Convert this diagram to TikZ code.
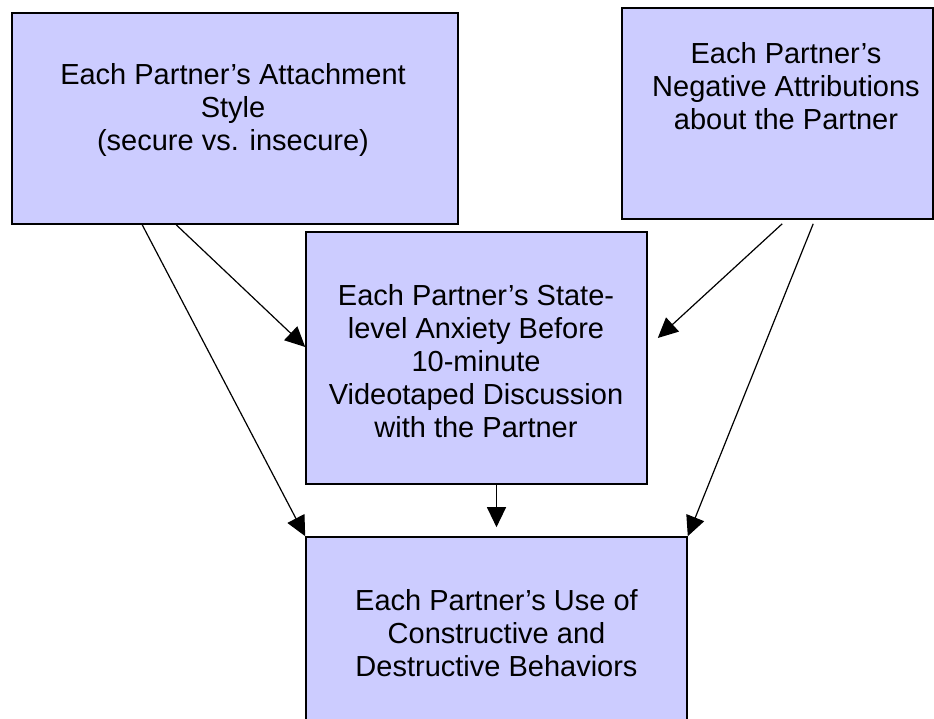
\documentclass[tikz,border=0pt]{standalone}
\usepackage{fontspec}
\setmainfont{Liberation Sans}
\usetikzlibrary{arrows.meta}
\definecolor{boxfill}{RGB}{204,204,255}
\tikzset{
    varbox/.style={draw=black,line width=1.6pt,fill=boxfill,inner sep=0pt},
    vartext/.style={align=center,inner sep=0pt,font=\fontsize{29}{33}\selectfont},
    link/.style={line width=1.2pt,-{Triangle[length=20pt,width=19pt]}}
}

\begin{document}
\begin{tikzpicture}[x=1pt,y=1pt]
            \useasboundingbox (0,0) rectangle (934,719);
            \node[varbox,minimum width=446pt,minimum height=211pt] (attach) at (235,600.5) {};
            \node[varbox,minimum width=311pt,minimum height=211pt] (attrib) at (777.5,605.5) {};
            \node[varbox,minimum width=341pt,minimum height=252pt] (anxiety) at (476.5,361) {};
            \node[varbox,minimum width=381pt,minimum height=222pt] (behav) at (496.5,71) {};

            \node[vartext] (attachtxt) at (233,609) {Each Partner’s Attachment\\Style\\(secure vs. insecure)};
            \node[vartext] (attribtxt) at (786,633) {Each Partner’s\\Negative Attributions\\about the Partner};
            \node[vartext] (anxietytxt) at (476,358) {Each Partner’s State-\\level Anxiety Before\\10-minute\\Videotaped Discussion\\with the Partner};
            \node[vartext] (behavtxt) at (496.5,86) {Each Partner’s Use of\\Constructive and\\Destructive Behaviors};

            \draw[link] ([xshift=131pt]attach.south west)--(behav.north west);
            \draw[link] ([xshift=165pt]attach.south west)--([yshift=11pt]anxiety.west);
            \draw[link] ([shift={(161pt,-4pt)}]attrib.south west)--([shift={(10pt,20pt)}]anxiety.east);
            \draw[link] ([shift={(192pt,-4pt)}]attrib.south west)--(behav.north east);
            \draw[link] (anxiety.south -| behav.north)--([yshift=9pt]behav.north);
        \end{tikzpicture}
\end{document}
